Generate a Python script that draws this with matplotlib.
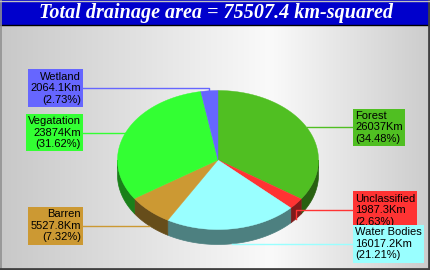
import numpy as np
import matplotlib.pyplot as plt
from matplotlib.patches import Polygon, Rectangle

# Data
labels = ["Forest", "Unclassified", "Water Bodies", "Barren", "Vegatation", "Wetland"]
areas = [26037, 1987.3, 16017.2, 5527.8, 23874, 2064.1]
area_text = ["26037", "1987.3", "16017.2", "5527.8", "23874", "2064.1"]
colors = ["#50bf22", "#ff3333", "#99ffff", "#cc9933", "#33ff33", "#6666ff"]
title = "Total drainage area = 75507.4 km-squared"

# Layout (pixels)
W, H = 430, 270
cx, cy, rx, ry, depth = 218, 160, 100.5, 69.5, 15
left_box_edge, right_box_edge = 83, 353
label_shift = {"Wetland": -2.5, "Unclassified": -8.5}

fig = plt.figure(figsize=(W / 100, H / 100), dpi=100)
ax = fig.add_axes([0, 0, 1, 1])
ax.set_xlim(0, W)
ax.set_ylim(H, 0)
ax.axis("off")

# background gradient
g = np.interp(np.linspace(0, 1, 430), [0, 0.63, 1], [200, 250, 204]) / 255
grad = np.tile(np.stack([g, g, g], axis=-1)[None, :, :], (2, 1, 1))
ax.imshow(grad, extent=(0, W, H, 0), aspect="auto", zorder=0)

# title bar
ax.add_patch(Rectangle((0, 0), W, 25, fc="#0000cc", ec="none", zorder=1))
ax.plot([0, W], [25, 25], color="black", lw=1, zorder=2)
ax.text(W / 2 + 1, 13, title, color="white", fontsize=14.5, fontweight="bold",
        fontstyle="italic", family="Liberation Serif", ha="center", va="center", zorder=3)

# borders
ax.plot([0.5, 0.5], [0, H], color="#909090", lw=1.2, zorder=10)
ax.plot([W - 1, W - 1], [0, H], color="#404040", lw=2, zorder=10)
ax.plot([0, W], [H - 1.5, H - 1.5], color="#404040", lw=2, zorder=10)
ax.plot([0, W], [0.5, 0.5], color="#c0c0c0", lw=1, zorder=10)


def ell(a):
    a = np.radians(a)
    return cx + rx * np.sin(a), cy - ry * np.cos(a)


def darker(c, f=0.5):
    c = np.array([int(c[i:i + 2], 16) for i in (1, 3, 5)]) / 255
    return tuple(c * f)


total = sum(areas)
fracs = [a / total for a in areas]
starts = np.concatenate([[0], np.cumsum(fracs)[:-1]]) * 360
ends = np.cumsum(fracs) * 360

# side walls (front half only)
for s, e, col in zip(starts, ends, colors):
    lo, hi = max(s, 90), min(e, 270)
    if hi <= lo:
        continue
    t = np.linspace(lo, hi, 80)
    x, y = ell(t)
    pts = np.concatenate([np.column_stack([x, y]), np.column_stack([x[::-1], y[::-1] + depth])])
    ax.add_patch(Polygon(pts, closed=True, fc=darker(col), ec=darker(col), lw=0.5, zorder=4))

# top faces
for s, e, col in zip(starts, ends, colors):
    t = np.linspace(s, e, 120)
    x, y = ell(t)
    pts = np.vstack([[cx, cy], np.column_stack([x, y])])
    ax.add_patch(Polygon(pts, closed=True, fc=col, ec=col, lw=0.3, zorder=5))

# labels
for name, txt, f, s, e, col in zip(labels, area_text, fracs, starts, ends, colors):
    mid = (s + e) / 2
    px, py = ell(mid)
    if 90 < mid < 270:
        py += depth
    ly = py + label_shift.get(name, 0)
    s_txt = f"{name}\n{txt}Km\n({f * 100:.2f}%)"
    if mid < 180:
        bx = right_box_edge
        ax.text(bx + 2, ly, s_txt, ha="left", va="center", ma="left", fontsize=8,
                family="Liberation Sans", linespacing=1.2, zorder=8,
                bbox=dict(boxstyle="square,pad=0.2", fc=col, ec="none"))
    else:
        bx = left_box_edge
        ax.text(bx - 2, ly, s_txt, ha="right", va="center", ma="right", fontsize=8,
                family="Liberation Sans", linespacing=1.2, zorder=8,
                bbox=dict(boxstyle="square,pad=0.2", fc=col, ec="none"))
    ax.plot([bx, px, px], [ly, ly, py], color=col, lw=1, zorder=7)

fig.savefig("out.png", dpi=100)
